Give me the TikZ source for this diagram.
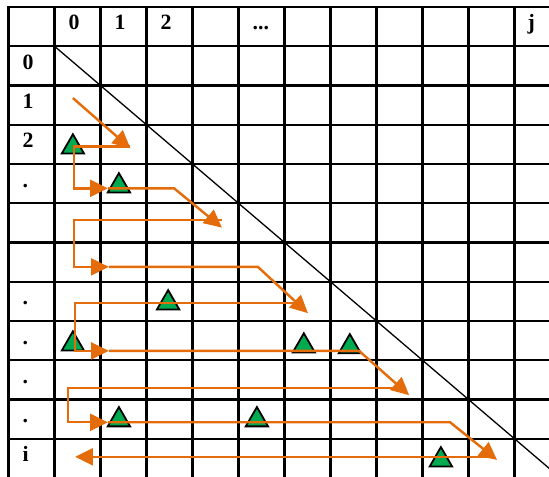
\documentclass[tikz,border=0pt]{standalone}
\usepackage{fontspec}
\setmainfont{Liberation Serif}
\usetikzlibrary{arrows.meta,shapes}
\definecolor{scanorange}{RGB}{228,108,10}
\definecolor{hitgreen}{RGB}{0,170,80}
\tikzstyle{lbl}=[anchor=base west,inner sep=0pt,font=\fontsize{13.5}{16}\selectfont\bfseries]
\tikzstyle{hit}=[regular polygon,regular polygon sides=3,fill=hitgreen,draw=black,line width=1.1pt,minimum size=0.56cm,inner sep=0pt]
\tikzstyle{scan}=[->,>={Triangle[length=11pt,width=10.5pt]},draw=scanorange,line width=1.5pt]

\begin{document}
\begin{tikzpicture}[x=1cm,y=-0.8533cm]
\useasboundingbox (-0.185,-0.178) rectangle (11.75,11.97);
\clip (-0.185,-0.178) rectangle (11.75,11.97);
% table
\foreach \k in {0,...,12}{
  \draw[line width=1.4pt,line cap=rect] (\k,0) -- (\k,12);
  \draw[line width=1.4pt,line cap=rect] (0,\k) -- (12,\k);
}
\coordinate (d0) at (1,1);
\coordinate (d1) at (13,13);
\draw[line width=0.8pt] (d0) -- (d1);
% headers
\node[lbl] (h0) at (1.30,0.586) {0};
\node[lbl] (h1) at (2.30,0.586) {1};
\node[lbl] (h2) at (3.30,0.586) {2};
\node[lbl] (hd) at (5.30,0.586) {...};
\node[lbl] (hj) at (11.28,0.586) {j};
\node[lbl] (r0) at (0.30,1.586) {0};
\node[lbl] (r1) at (0.30,2.586) {1};
\node[lbl] (r2) at (0.30,3.586) {2};
\node[lbl] (r3) at (0.30,4.586) {.};
\node[lbl] (r6) at (0.30,7.586) {.};
\node[lbl] (r7) at (0.30,8.586) {.};
\node[lbl] (r8) at (0.30,9.586) {.};
\node[lbl] (r9) at (0.30,10.586) {.};
\node[lbl] (ri) at (0.30,11.586) {i};
% hits
\node[hit] (t1) at (1.40,3.57) {};
\node[hit] (t2) at (2.40,4.56) {};
\node[hit] (t3) at (3.47,7.54) {};
\node[hit] (t4) at (1.40,8.59) {};
\node[hit] (t5) at (6.42,8.64) {};
\node[hit] (t6) at (7.42,8.66) {};
\node[hit] (t7) at (2.40,10.52) {};
\node[hit] (t8) at (5.40,10.52) {};
\node[hit] (t9) at (9.40,11.54) {};
% scan order
\coordinate (p1) at (1.40,2.32);
\coordinate (q1) at (2.65,3.60);
\coordinate (u2) at (2.65,3.55);
\coordinate (v2) at (1.42,4.62);
\coordinate (w2) at (2.16,4.62);
\coordinate (k2) at (3.60,4.62);
\coordinate (q2) at (4.64,5.62);
\coordinate (u3) at (4.64,5.43);
\coordinate (v3) at (1.42,6.62);
\coordinate (w3) at (2.18,6.62);
\coordinate (k3) at (5.42,6.62);
\coordinate (q3) at (6.51,7.80);
\coordinate (u4) at (6.40,7.54);
\coordinate (v4) at (1.45,8.76);
\coordinate (w4) at (2.18,8.76);
\coordinate (k4) at (7.62,8.76);
\coordinate (q4) at (8.71,9.89);
\coordinate (u5) at (8.45,9.71);
\coordinate (v5) at (1.29,10.58);
\coordinate (w5) at (2.16,10.58);
\coordinate (k5) at (9.60,10.58);
\coordinate (q5) at (10.62,11.54);
\coordinate (u6) at (10.40,11.46);
\coordinate (v6) at (1.45,11.46);
\draw[scan] (p1) -- (q1);
\draw[scan] (u2) -| (v2) -- (w2);
\draw[scan] (w2) -- (k2) -- (q2);
\draw[scan] (u3) -| (v3) -- (w3);
\draw[scan] (w3) -- (k3) -- (q3);
\draw[scan] (u4) -| (v4) -- (w4);
\draw[scan] (w4) -- (k4) -- (q4);
\draw[scan] (u5) -| (v5) -- (w5);
\draw[scan] (w5) -- (k5) -- (q5);
\draw[scan] (u6) -- (v6);
\end{tikzpicture}
\end{document}
